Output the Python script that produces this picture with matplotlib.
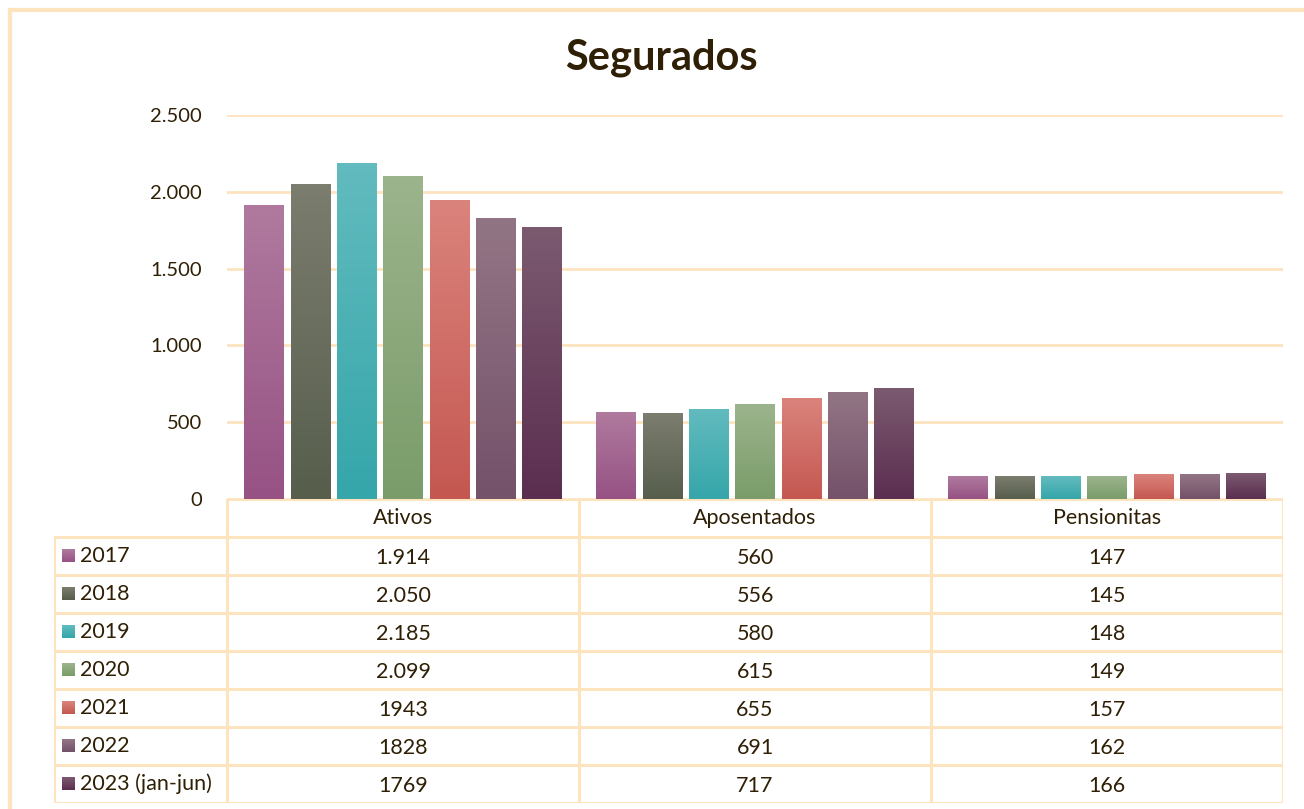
import numpy as np
import matplotlib
matplotlib.use("Agg")
import matplotlib.pyplot as plt
from matplotlib.colors import LinearSegmentedColormap
from matplotlib.lines import Line2D

categories = ["Ativos", "Aposentados", "Pensionitas"]
years = ["2017", "2018", "2019", "2020", "2021", "2022", "2023 (jan-jun)"]
values = {
    "2017": [1914, 560, 147],
    "2018": [2050, 556, 145],
    "2019": [2185, 580, 148],
    "2020": [2099, 615, 149],
    "2021": [1943, 655, 157],
    "2022": [1828, 691, 162],
    "2023 (jan-jun)": [1769, 717, 166],
}
cell_text = {
    "2017": ["1.914", "560", "147"],
    "2018": ["2.050", "556", "145"],
    "2019": ["2.185", "580", "148"],
    "2020": ["2.099", "615", "149"],
    "2021": ["1943", "655", "157"],
    "2022": ["1828", "691", "162"],
    "2023 (jan-jun)": ["1769", "717", "166"],
}
# (top, bottom) gradient colours
colors = [("#B07A9E", "#965284"), ("#7B7D6F", "#575E4C"), ("#62BBBE", "#35A6AA"),
          ("#9CB48C", "#7A9C6A"), ("#DA837C", "#C45851"), ("#927585", "#74526A"),
          ("#7B5A70", "#5B2E50")]
yticks = [0, 500, 1000, 1500, 2000, 2500]
ytick_labels = ["0", "500", "1.000", "1.500", "2.000", "2.500"]

plt.rcParams['font.family'] = ['Lato', 'DejaVu Sans']
TXT = "#2E1F05"
PEACH = "#FDE4BF"

W, H = 1304, 809
fig = plt.figure(figsize=(W / 100, H / 100), dpi=100)

def px(x0, y0, x1, y1):
    return [x0 / W, 1 - y1 / H, (x1 - x0) / W, (y1 - y0) / H]

# outer frame
fig.add_artist(Line2D([10 / W, 1], [1 - 10 / H, 1 - 10 / H], color=PEACH, lw=3))
fig.add_artist(Line2D([10 / W, 10 / W], [0, 1 - 10 / H], color=PEACH, lw=3))

fig.text(661 / W, 1 - 58 / H, "Segurados", ha="center", va="center",
         fontsize=30, fontweight="bold", color=TXT)

ax = fig.add_axes(px(227, 115, 1283, 499))
n = len(years)
step = 0.1316
bw = 0.111
x = np.arange(len(categories))
for i, yr in enumerate(years):
    cmap = LinearSegmentedColormap.from_list("g%d" % i, [colors[i][1], colors[i][0]])
    grad = np.linspace(0, 1, 100).reshape(-1, 1)
    for j, v in enumerate(values[yr]):
        xc = x[j] + (i - (n - 1) / 2) * step
        ax.imshow(grad, extent=[xc - bw / 2, xc + bw / 2, 0, v], origin="lower",
                  aspect="auto", cmap=cmap, zorder=3, interpolation="bilinear")
ax.set_xlim(-0.5, 2.5)
ax.set_ylim(0, 2500)
ax.set_yticks(yticks)
ax.set_yticklabels(ytick_labels)
ax.set_xticks([])
ax.tick_params(axis="y", length=0, pad=18, labelsize=14.5, labelcolor=TXT)
ax.grid(axis="y", color=PEACH, lw=2, zorder=0)
for s in ax.spines.values():
    s.set_visible(False)

# data table
left_w = 173 / 352
tax = fig.add_axes(px(54, 499, 1283, 803))
tax.set_xlim(-0.5 - left_w, 2.5)
tax.set_ylim(8, 0)
tax.axis("off")
lkw = dict(color=PEACH, lw=2.2, solid_capstyle="projecting")
tax.plot([-0.5, 2.5], [0, 0], **lkw)
for r in range(1, 9):
    tax.plot([-0.5 - left_w, 2.5], [r, r], **lkw)
for c in [-0.5, 0.5, 1.5, 2.5]:
    tax.plot([c, c], [0, 8], **lkw)
tax.plot([-0.5 - left_w, -0.5 - left_w], [1, 8], **lkw)
FS = 15.5
for j, cat in enumerate(categories):
    tax.text(x[j], 0.5, cat, ha="center", va="center", fontsize=FS, color=TXT)
key_w = 13 / 352
for i, yr in enumerate(years):
    r = i + 1
    cmap = LinearSegmentedColormap.from_list("k%d" % i, [colors[i][0], colors[i][1]])
    kx0 = -0.5 - left_w + 8 / 352
    tax.imshow(np.linspace(0, 1, 20).reshape(-1, 1),
               extent=[kx0, kx0 + key_w, r + 0.33, r + 0.67], origin="lower",
               aspect="auto", cmap=cmap, zorder=3)
    tax.text(kx0 + key_w + 5 / 352, r + 0.5, yr, ha="left", va="center",
             fontsize=FS, color=TXT)
    for j in range(len(categories)):
        tax.text(x[j], r + 0.55, cell_text[yr][j], ha="center", va="center",
                 fontsize=FS, color=TXT)
tax.set_xlim(-0.5 - left_w, 2.5)
tax.set_ylim(8, 0)

fig.savefig("out.png", dpi=100)
